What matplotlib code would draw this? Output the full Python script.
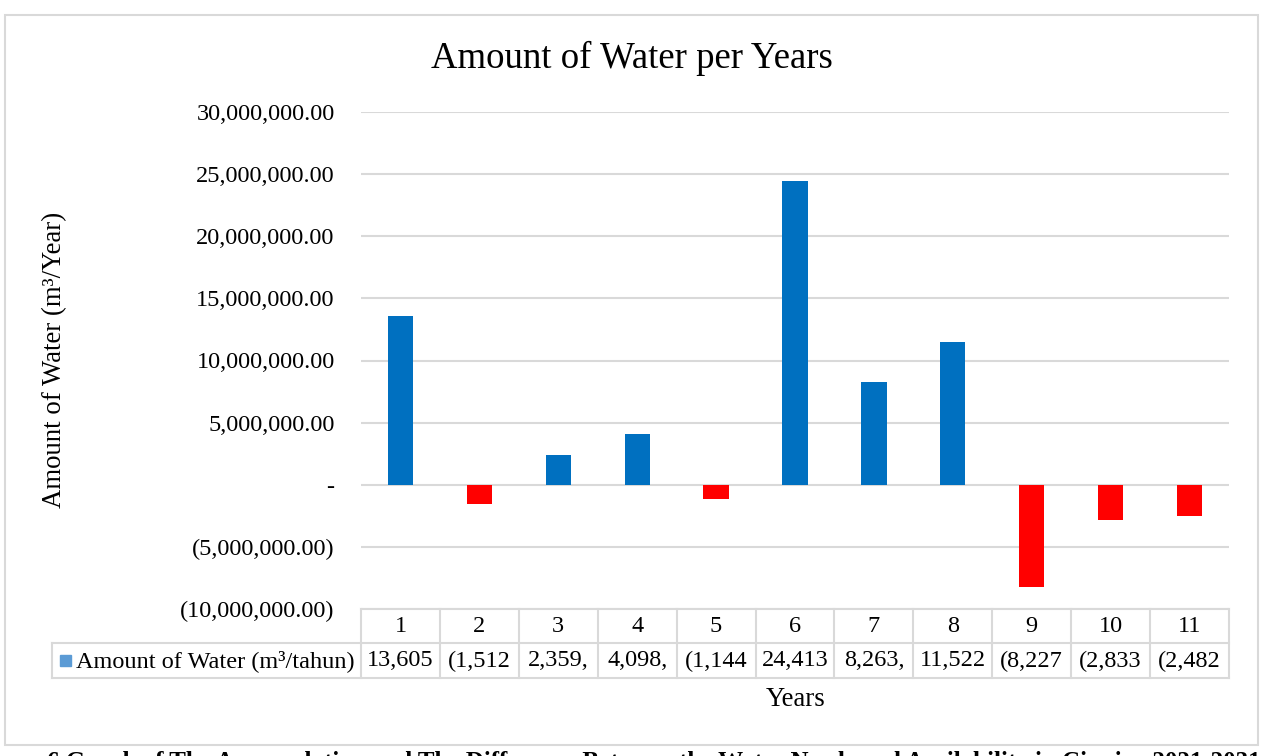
import matplotlib.pyplot as plt
import matplotlib.patches as patches
import numpy as np
from matplotlib.ticker import FuncFormatter, MultipleLocator

plt.rcParams['font.family'] = ['Liberation Serif', 'DejaVu Serif']

years = [str(i) for i in range(1, 12)]
water = [13605000, -1512000, 2359000, 4098000, -1144000, 24413000,
         8263000, 11522000, -8227000, -2833000, -2482000]
series_name = 'Amount of Water (m³/tahun)'

W, H = 1266, 756
blue = '#0070C0'
red = '#FF0000'
grid_c = '#D9D9D9'
fs = 17.5      # tick labels and table
fs_ax = 19.3   # axis titles


def fx(px):
    return px / W


def fy(py):
    return 1 - py / H


def money(v):
    if v == 0:
        return '-'
    s = '{:,.2f}'.format(abs(v))
    return '(' + s + ')' if v < 0 else s


fig = plt.figure(figsize=(W / 100, H / 100), dpi=100)
ax = fig.add_axes([fx(361), fy(609), fx(1229 - 361), (609 - 112) / H])

x = np.arange(len(years))
colors = [blue if v >= 0 else red for v in water]
ax.bar(x, water, width=0.32, color=colors, zorder=3)

ax.set_xlim(-0.5, len(years) - 0.5)
ax.set_ylim(-10000000, 30000000)
ax.yaxis.set_major_locator(MultipleLocator(5000000))
ax.yaxis.set_major_formatter(FuncFormatter(lambda v, p: money(v)))
ax.grid(axis='y', color=grid_c, lw=1.5, zorder=0)
ax.tick_params(axis='y', length=0, pad=19, labelsize=fs)
ax.set_xticks([])
for s in ax.spines.values():
    s.set_visible(False)

# chart border
fig.add_artist(patches.Rectangle((fx(5), fy(745)), fx(1258 - 5), (745 - 15) / H,
                                 transform=fig.transFigure, fill=False,
                                 edgecolor=grid_c, lw=1.5))

fig.text(fx(632), fy(58), 'Amount of Water per Years', ha='center', va='center',
         fontsize=26.5)
fig.text(fx(55), fy(360), 'Amount of Water (m³/Year)', rotation=90,
         ha='center', va='center', fontsize=fs_ax)

# data table below the plot
bounds = [fx(361 + i * (1229 - 361) / len(years)) for i in range(len(years) + 1)]
tl = dict(color=grid_c, lw=1.5, transform=fig.transFigure)
fig.add_artist(plt.Line2D([bounds[0], bounds[-1]], [fy(609), fy(609)], **tl))
fig.add_artist(plt.Line2D([fx(52), bounds[-1]], [fy(643), fy(643)], **tl))
fig.add_artist(plt.Line2D([fx(52), bounds[-1]], [fy(678), fy(678)], **tl))
fig.add_artist(plt.Line2D([fx(52), fx(52)], [fy(643), fy(678)], **tl))
for b in bounds:
    fig.add_artist(plt.Line2D([b, b], [fy(609), fy(678)], **tl))

for i, (yr, v) in enumerate(zip(years, water)):
    cx = (bounds[i] + bounds[i + 1]) / 2
    fig.text(cx, fy(626), yr, ha='center', va='center', fontsize=fs)
    fig.text(cx, fy(661), money(v)[:6], ha='center', va='center', fontsize=fs)

fig.add_artist(patches.Rectangle((fx(60), fy(666)), fx(11), 11 / H,
                                 transform=fig.transFigure, color='#5B9BD5'))
fig.text(fx(76), fy(661), series_name, ha='left', va='center', fontsize=fs)

fig.text(fx(796), fy(700), 'Years', ha='center', va='center', fontsize=fs_ax)

fig.text(fx(47), fy(751), '6 Graph of The Accumulation and The Difference Between '
         'the Water Needs and Availability in Cianjur 2021-2031',
         ha='left', va='top', fontsize=18, fontweight='bold')

fig.savefig('out.png', dpi=100)
